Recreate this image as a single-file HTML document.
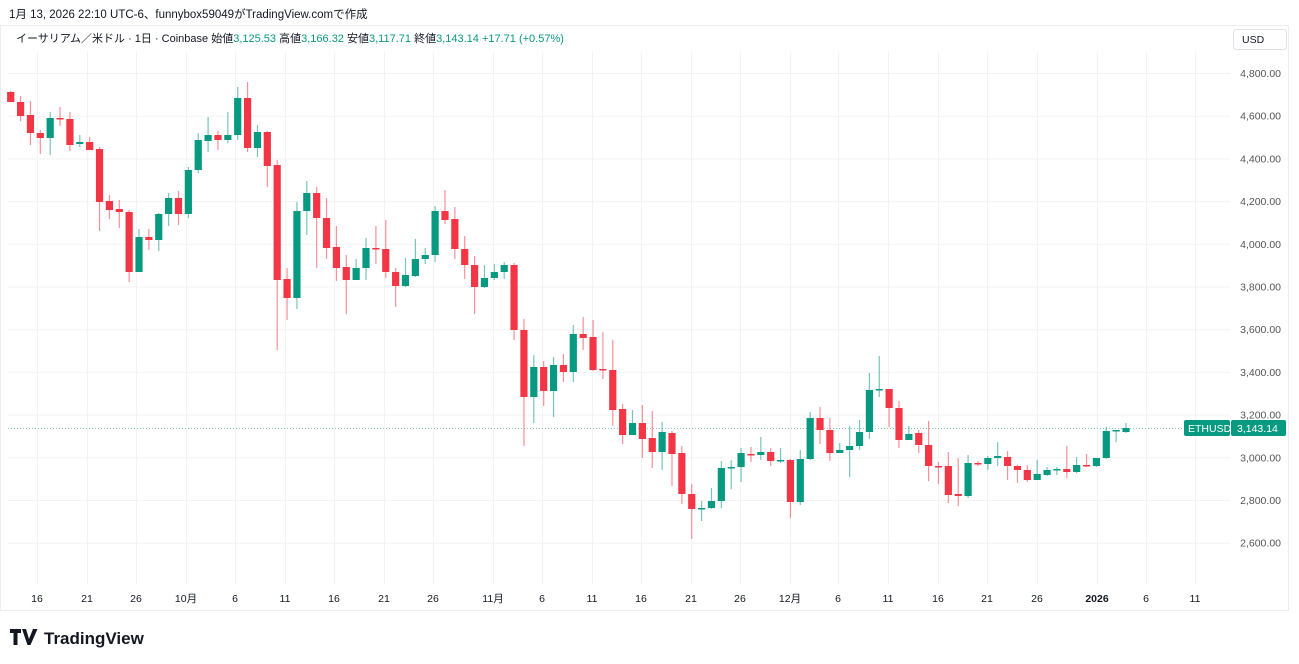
<!DOCTYPE html>
<html><head><meta charset="utf-8"><style>
body{margin:0;background:#fff;width:1299px;height:664px;overflow:hidden;font-family:"Liberation Sans","Noto Sans CJK JP",sans-serif}
svg{position:absolute;left:0;top:0}
</style></head><body>
<svg id="s" width="1299" height="664" xmlns="http://www.w3.org/2000/svg" font-family="Liberation Sans, Noto Sans CJK JP, sans-serif">
<rect x="0.5" y="25.5" width="1288" height="585" fill="none" stroke="#eeeeee"/>
<text x="9" y="18" font-size="11.5" fill="#131722">1月 13, 2026 22:10 UTC-6、funnybox59049がTradingView.comで作成</text>
<text x="16" y="42" font-size="11" fill="#131722">イーサリアム／米ドル · 1日 · Coinbase  始値<tspan fill="#089981">3,125.53</tspan>  高値<tspan fill="#089981">3,166.32</tspan>  安値<tspan fill="#089981">3,117.71</tspan>  終値<tspan fill="#089981">3,143.14  +17.71 (+0.57%)</tspan></text>
<rect x="1233.5" y="29.5" width="53" height="20" rx="3" fill="#fff" stroke="#e0e3eb"/>
<text x="1242" y="43" font-size="10.5" fill="#131722">USD</text>
<g id="grid" stroke="#f3f3f3" stroke-width="1"></g>
<g id="ax" font-size="10.5" fill="#555"></g>
<line x1="8" y1="428.5" x2="1230" y2="428.5" stroke="#089981" stroke-dasharray="1,2" opacity="0.5"/>
<g id="c"></g>
<rect x="1184" y="420" width="46" height="16" rx="2" fill="#089981"/>
<text x="1188" y="432" font-size="10.5" fill="#fff">ETHUSD</text>
<rect x="1231" y="420" width="55" height="16" rx="2" fill="#089981"/>
<text x="1237" y="432" font-size="10.5" fill="#fff">3,143.14</text>
<text x="1282" y="644" font-size="0"> </text>
<g transform="translate(10,629)"><path d="M0 0h11v4h-3.5v12h-4v-12H0z M12 0h4l3 10 4-10h4.5l-7 16h-3z" fill="#131722"/></g>
<text x="44" y="644" font-size="17" font-weight="bold" fill="#131722">TradingView</text>
</svg>
<script>
var NS="http://www.w3.org/2000/svg";
function el(p,t,a,tx){var e=document.createElementNS(NS,t);for(var k in a)e.setAttribute(k,a[k]);if(tx)e.textContent=tx;p.appendChild(e);return e;}
var g=document.getElementById('grid'),ax=document.getElementById('ax'),c=document.getElementById('c');
for(var k=0;k<12;k++){var p=4800-200*k,y=73+k*42.7;if(y>585)break;el(g,'line',{x1:8,x2:1230,y1:y+0.5,y2:y+0.5});
el(ax,'text',{x:1281,y:y+4,'text-anchor':'end'},p.toLocaleString('en-US')+'.00');}
var xl=[[37,'16'],[87,'21'],[136,'26'],[186,'10月'],[235,'6'],[285,'11'],[334,'16'],[384,'21'],[433,'26'],[493,'11月'],[542,'6'],[592,'11'],[641,'16'],[691,'21'],[740,'26'],[790,'12月'],[838,'6'],[888,'11'],[938,'16'],[987,'21'],[1037,'26'],[1097,'2026'],[1146,'6'],[1195,'11']];
xl.forEach(function(a){el(g,'line',{x1:a[0]+0.5,x2:a[0]+0.5,y1:52,y2:585});var t=el(ax,'text',{x:a[0],y:602,'text-anchor':'middle',fill:'#131722'},a[1]);if(a[1]=='2026')t.setAttribute('font-weight','bold');});
var D=[
'r',92,102,91,102,'r',102,116,96,121,'r',115,133,101,145,'r',133,138,130,154,'g',118,138,112,155,'r',118,119,107,126,'r',119,145,112,151,'g',142,144,135,147,'r',142,150,137,150,'r',149,202,147,231,
'r',201,210,195,219,'r',209,212,200,228,'r',212,272,210,282,'g',237,272,229,272,'r',237,240,229,250,'g',214,240,213,251,'g',198,214,193,226,'r',198,214,191,225,'g',170,214,167,218,'g',140,170,133,173,
'g',135,141,117,152,'r',135,140,131,150,'g',135,140,112,143,'g',98,135,87,140,'r',98,148,82,152,'g',132,148,125,157,'r',132,166,131,187,'r',165,280,160,350,'r',279,298,268,320,'g',211,298,202,309,
'g',193,211,181,235,'r',193,218,187,268,'r',218,248,198,259,'r',247,268,226,281,'r',267,280,255,314,'g',268,280,259,280,'g',248,268,238,280,'r',248,249,226,264,'r',249,272,220,278,'r',272,286,268,307,
'g',275,286,258,287,'g',259,276,239,277,'g',255,259,248,264,'g',211,255,206,262,'r',211,220,190,224,'r',219,249,207,259,'r',249,265,236,279,'r',265,287,256,314,'g',278,287,265,288,'g',272,278,264,280,
'g',265,272,262,279,'r',265,330,263,340,'r',330,397,319,446,'g',367,397,355,423,'r',367,391,361,406,'g',365,391,357,417,'r',365,372,354,382,'g',334,372,325,382,'r',334,338,317,350,'r',337,370,320,371,
'r',369,370,332,379,'r',370,410,340,426,'r',409,435,404,444,'g',423,435,410,435,'r',423,439,405,458,'r',438,452,411,468,'g',432,452,422,470,'r',433,454,431,486,'r',453,494,446,504,'r',494,509,484,539,
'g',508,509,501,521,'g',501,508,488,509,'g',468,501,461,508,'g',467,468,460,489,'g',453,467,448,482,'r',454,455,447,462,'g',452,455,437,460,'r',452,461,448,466,'g',460,461,448,463,'r',460,502,459,518,
'g',459,502,450,505,'g',418,459,412,460,'r',418,430,407,444,'r',430,453,418,461,'g',450,453,443,453,'g',446,450,426,477,'g',432,446,420,450,'g',390,432,373,439,'g',389,390,356,397,'r',389,408,389,427,
'r',408,440,401,448,'g',434,440,426,440,'r',433,445,430,453,'r',445,466,421,481,'r',466,467,462,484,'r',466,495,452,503,'r',494,496,458,506,'g',463,496,455,498,'r',463,464,461,466,'g',458,464,456,470,
'g',456,458,442,466,'r',457,466,451,480,'r',466,470,465,483,'r',470,480,465,482,'g',474,480,460,480,'g',470,475,467,476,'g',469,470,467,475,'r',469,472,446,478,'g',465,472,457,473,'r',465,466,454,467,
'g',458,466,458,467,'g',431,458,427,459,'g',430,431,430,442,'g',428,432,423,433];
for(var i=0;i<D.length/5;i++){var t=D[i*5],o=D[i*5+1],cl=D[i*5+2],h=D[i*5+3],l=D[i*5+4];var col=t=='g'?'#089981':'#F23645';var x=10.7+9.87*i;
el(c,'line',{x1:x,x2:x,y1:h,y2:l,stroke:col,'stroke-width':1.2,opacity:0.55});
el(c,'rect',{x:x-3.6,y:o,width:7.2,height:Math.max(1.5,cl-o),fill:col});}
</script>
</body></html>
